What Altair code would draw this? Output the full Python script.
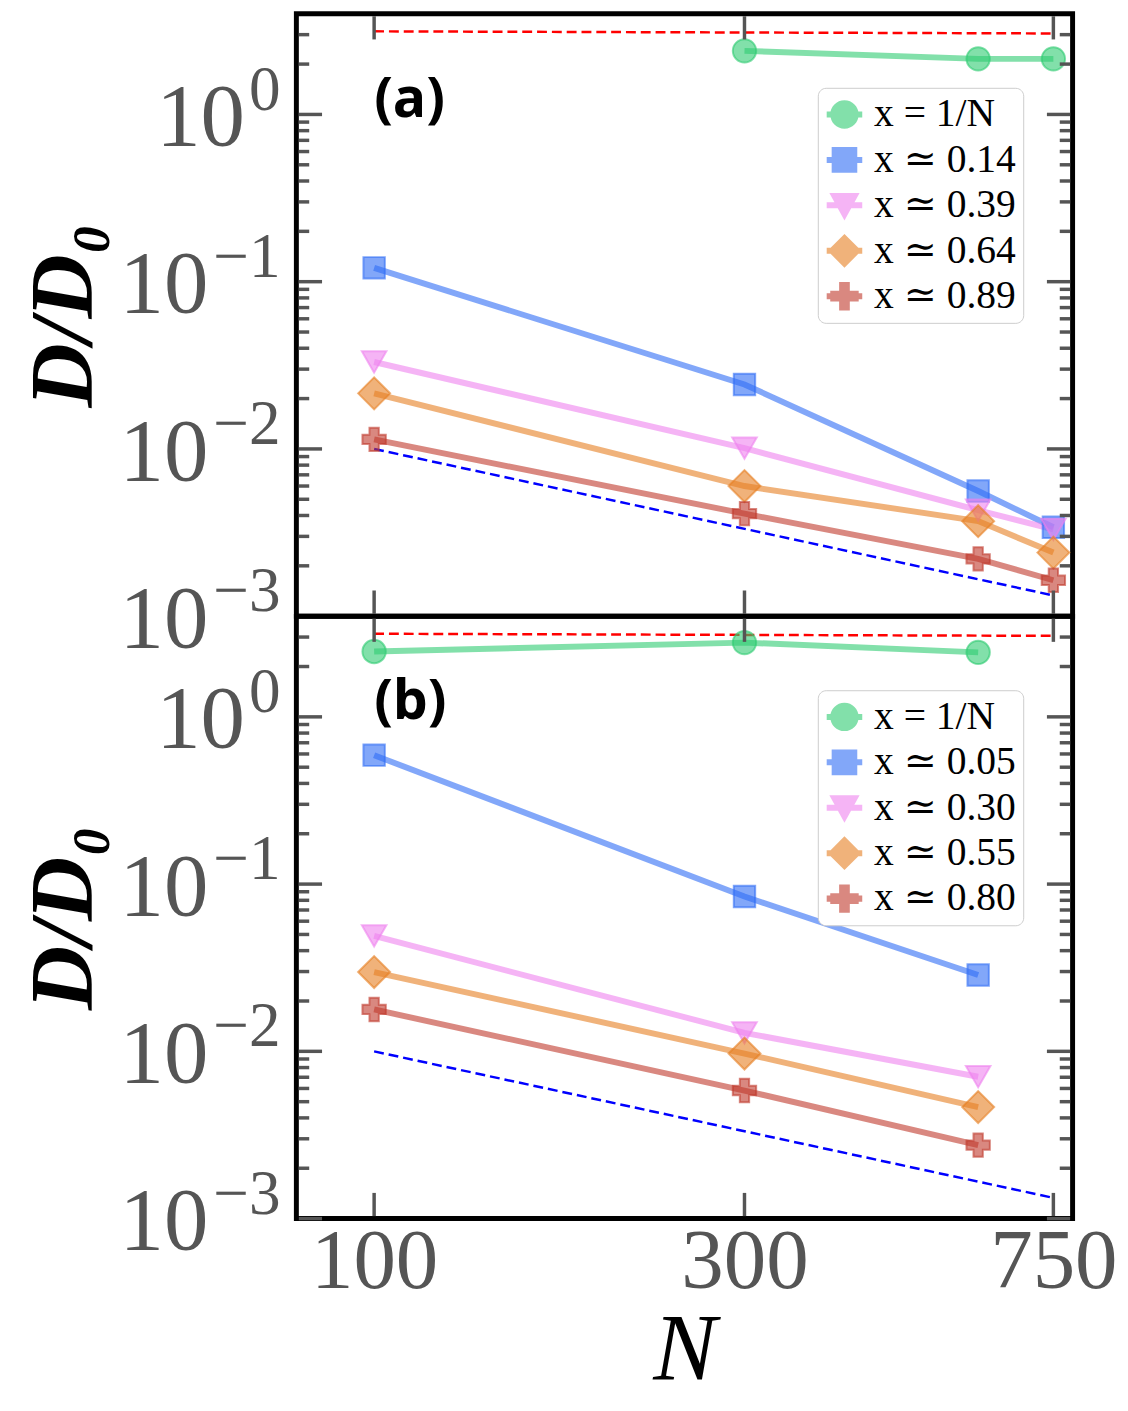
import altair as alt
import pandas as pd

# ---------------- data ----------------
SERIES_A = ["x = 1/N", "x ≃ 0.14", "x ≃ 0.39", "x ≃ 0.64", "x ≃ 0.89"]
SERIES_B = ["x = 1/N", "x ≃ 0.05", "x ≃ 0.30", "x ≃ 0.55", "x ≃ 0.80"]

# panel (a)
N_GREEN_A = [300, 600, 750]
GREEN_A = [2.40, 2.15, 2.15]
N_A = [100, 300, 600, 750]
BLUE_A = [0.121, 0.0243, 0.0056, 0.0034]
PINK_A = [0.0331, 0.0101, 0.0043, 0.0033]
ORANGE_A = [0.0215, 0.0060, 0.0037, 0.0024]
RED_A = [0.0114, 0.0041, 0.0022, 0.00164]

# panel (b)
N_GREEN_B = [100, 300, 600]
GREEN_B = [2.46, 2.78, 2.43]
N_B = [100, 300, 600]
BLUE_B = [0.59, 0.0843, 0.0286]
PINK_B = [0.049, 0.0129, 0.00705]
ORANGE_B = [0.0298, 0.0097, 0.00464]
RED_B = [0.0178, 0.00583, 0.00275]

# reference dashed lines
REF_N = [100, 750]
RED_REF_A = [3.14, 3.05]
RED_REF_B = [3.14, 3.05]
BLUE_REF = [0.01, 0.00133]

# ticks / labels
X_TICKS = [100, 300, 750]
Y_MAJOR = [1, 0.1, 0.01, 0.001]
Y_EXP = ["0", "\u22121", "\u22122", "\u22123"]
Y_MINOR = [k * 10.0 ** e for e in (-3, -2, -1, 0) for k in range(2, 10) if k * 10.0 ** e < 3.9]

# ---------------- styling ----------------
COLORS = ["#2ecc71", "#2f6cf5", "#ee82ee", "#e67e22", "#c0392b"]
SHAPES = ["circle", "square", "triangle-down", "diamond", "cross"]
SIZES = [560, 470, 620, 1050, 560]
LINE_BAR = "M-1,-0.17H1V0.17H-1Z "
LEG_SHAPES = [
    LINE_BAR + "M-0.8,0A0.8,0.8,0,1,1,0.8,0A0.8,0.8,0,1,1,-0.8,0Z",
    LINE_BAR + "M-0.72,-0.72H0.72V0.72H-0.72Z",
    LINE_BAR + "M-0.85,-0.7H0.85L0,0.85Z",
    LINE_BAR + "M0,-0.95L0.95,0L0,0.95L-0.95,0Z",
    LINE_BAR + "M-0.3,-0.8H0.3V-0.3H0.8V0.3H0.3V0.8H-0.3V0.3H-0.8V-0.3H-0.3Z",
]

W, H = 786, 610
SERIF = "Liberation Serif, DejaVu Serif, serif"
GREY = "#555555"
XDOM = [79.4, 794.0]
YDOM = [0.001, 4.0]
MAJ, MIN = 26, 13


def panel(series, n_green, green, n_main, curves, red_ref, tag, show_x):
    rows = []
    for i, s in enumerate(series):
        ns = n_green if i == 0 else n_main
        vals = green if i == 0 else curves[i - 1]
        for n, v in zip(ns, vals):
            rows.append({"N": n, "D": v, "series": s})
    df = pd.DataFrame(rows)

    xs = alt.Scale(type="log", domain=XDOM, nice=False)
    ys = alt.Scale(type="log", domain=YDOM, nice=False)

    if show_x:
        xaxis = alt.Axis(values=X_TICKS, format="d", labelFont=SERIF, labelFontSize=86,
                         labelColor=GREY, labelPadding=2, ticks=False, domain=False,
                         grid=False, title="N", titleFont=SERIF, titleFontSize=96,
                         titleFontStyle="italic", titleFontWeight="normal",
                         titleColor="black", titlePadding=0)
    else:
        xaxis = None
    yaxis = alt.Axis(labels=False, ticks=False, domain=False, grid=False,
                     title="D/D\u2080", titleFont=SERIF, titleFontSize=90,
                     titleFontStyle="italic", titleFontWeight="bold",
                     titleColor="black", titlePadding=189)

    X = lambda f: alt.X(f, scale=xs, axis=xaxis)
    Y = lambda f: alt.Y(f, scale=ys, axis=yaxis)

    # dashed reference lines
    red_df = pd.DataFrame({"N": REF_N, "D": red_ref})
    blue_df = pd.DataFrame({"N": REF_N, "D": BLUE_REF})
    red_ref_l = alt.Chart(red_df).mark_line(color="#ff0000", strokeDash=[10, 5], strokeWidth=2.5).encode(
        x=X("N:Q"), y=Y("D:Q"))
    blue_ref_l = alt.Chart(blue_df).mark_line(color="#0000ff", strokeDash=[10, 5], strokeWidth=2.5).encode(
        x=X("N:Q"), y=Y("D:Q"))

    lines = alt.Chart(df).mark_line(strokeWidth=6, opacity=0.6).encode(
        x=X("N:Q"), y=Y("D:Q"),
        color=alt.Color("series:N", scale=alt.Scale(domain=series, range=COLORS), legend=None),
    )

    point_layers = []
    for s, c, sh, sz in zip(series, COLORS, SHAPES, SIZES):
        point_layers.append(
            alt.Chart(df).transform_filter(alt.datum.series == s).mark_point(
                filled=True, shape=sh, size=sz, color=c, stroke=c, fillOpacity=0.6,
                strokeOpacity=0.6, strokeWidth=2).encode(x=X("N:Q"), y=Y("D:Q"))
        )

    leg = alt.Legend(orient="none", legendX=528, legendY=75, title=None,
                     fillColor="white", strokeColor="#cccccc",
                     cornerRadius=8, padding=7, rowPadding=6, labelFont=SERIF,
                     labelFontSize=40, labelColor="black", symbolSize=1296,
                     labelOffset=10, symbolStrokeWidth=0, symbolOpacity=0.6)
    legend_layer = alt.Chart(df).transform_filter("false").mark_point(
        filled=True, opacity=0.6, size=1296).encode(
        color=alt.Color("series:N", scale=alt.Scale(domain=series, range=COLORS), legend=leg),
        shape=alt.Shape("series:N", scale=alt.Scale(domain=series, range=LEG_SHAPES), legend=leg),
    )

    # inward ticks
    ymaj = pd.DataFrame({"v": Y_MAJOR})
    ymin = pd.DataFrame({"v": Y_MINOR})
    xt = pd.DataFrame({"v": X_TICKS})
    tk = dict(color=GREY, strokeWidth=3.5)
    ticks = [
        alt.Chart(ymaj).mark_rule(**tk).encode(y=Y("v:Q"), x=alt.value(2.5), x2=alt.value(MAJ)),
        alt.Chart(ymaj).mark_rule(**tk).encode(y=Y("v:Q"), x=alt.value(W - MAJ), x2=alt.value(W - 2.5)),
        alt.Chart(ymin).mark_rule(**tk).encode(y=Y("v:Q"), x=alt.value(2.5), x2=alt.value(MIN)),
        alt.Chart(ymin).mark_rule(**tk).encode(y=Y("v:Q"), x=alt.value(W - MIN), x2=alt.value(W - 2.5)),
        alt.Chart(xt).mark_rule(**tk).encode(x=X("v:Q"), y=alt.value(2.5), y2=alt.value(MAJ)),
        alt.Chart(xt).mark_rule(**tk).encode(x=X("v:Q"), y=alt.value(H - MAJ), y2=alt.value(H - 2.5)),
    ]

    # y tick labels 10^k
    lab = pd.DataFrame({"v": Y_MAJOR, "e": Y_EXP, "b": ["10"] * len(Y_MAJOR)})
    exp_t = alt.Chart(lab).mark_text(font=SERIF, fontSize=64, color=GREY, align="right",
                                     baseline="alphabetic", dy=-5).encode(
        y=Y("v:Q"), x=alt.value(-16), text="e:N")
    base0 = alt.Chart(lab).transform_filter("datum.e == '0'").mark_text(
        font=SERIF, fontSize=90, color=GREY, align="right", baseline="alphabetic", dy=31).encode(
        y=Y("v:Q"), x=alt.value(-52), text="b:N")
    baseN = alt.Chart(lab).transform_filter("datum.e != '0'").mark_text(
        font=SERIF, fontSize=90, color=GREY, align="right", baseline="alphabetic", dy=31).encode(
        y=Y("v:Q"), x=alt.value(-89), text="b:N")

    tag_t = alt.Chart(pd.DataFrame({"t": [tag]})).mark_text(
        font="Open Sans", fontWeight="bold", fontSize=56, align="left", baseline="middle",
        color="black").encode(
        x=alt.XDatum(100, scale=xs, axis=xaxis), y=alt.YDatum(1.22, scale=ys, axis=yaxis), text="t:N")

    layers = [red_ref_l, blue_ref_l, lines] + point_layers + ticks + [exp_t, base0, baseN, tag_t, legend_layer]
    return alt.layer(*layers).resolve_scale(color="independent", shape="independent").properties(
        width=W, height=H)


pa = panel(SERIES_A, N_GREEN_A, GREEN_A, N_A, [BLUE_A, PINK_A, ORANGE_A, RED_A], RED_REF_A, "(a)", False)
pb = panel(SERIES_B, N_GREEN_B, GREEN_B, N_B, [BLUE_B, PINK_B, ORANGE_B, RED_B], RED_REF_B, "(b)", True)

PAD = {"left": 9, "top": -6, "right": 0, "bottom": 0}
chart = alt.vconcat(pa, pb, spacing=0, bounds="flush").properties(padding=PAD).configure(
    padding=PAD).configure_view(stroke="black", strokeWidth=5).configure_axis(grid=False)

chart.save("out.html", embed_options={"renderer": "svg", "actions": False})
